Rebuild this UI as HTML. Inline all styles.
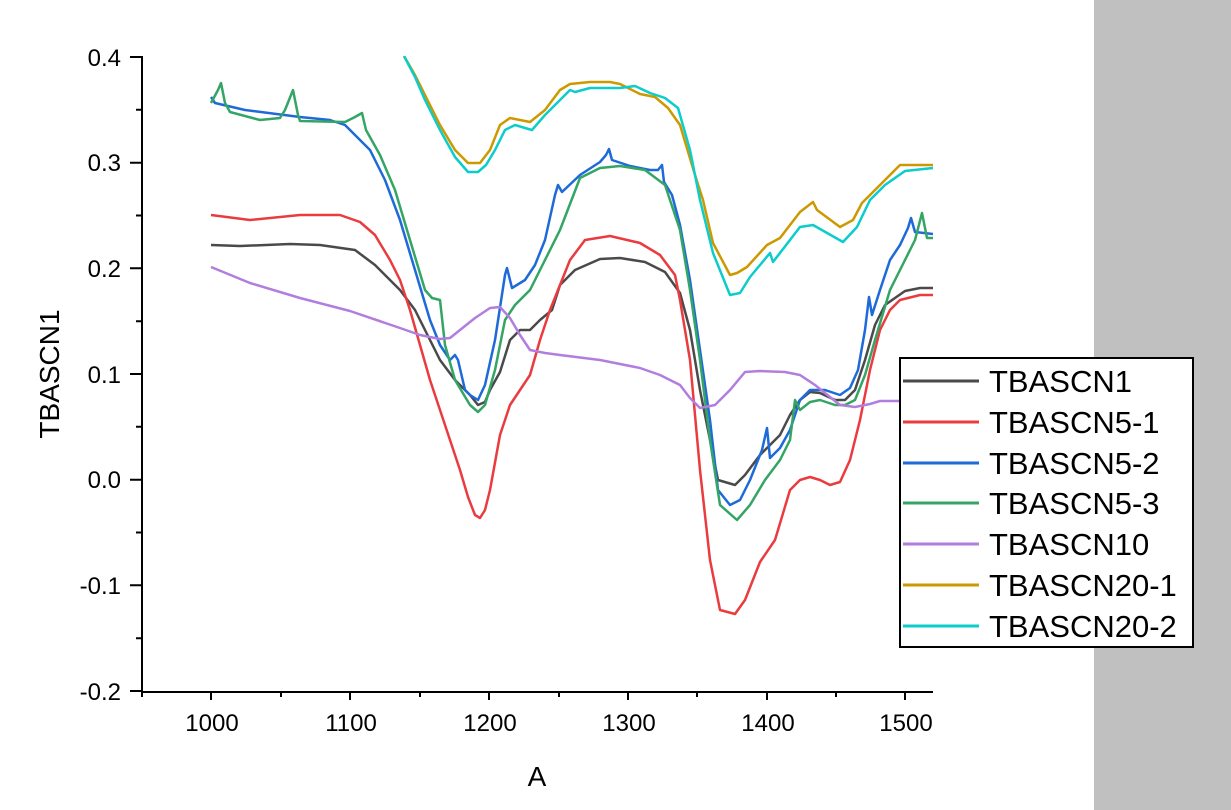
<!DOCTYPE html>
<html><head><meta charset="utf-8"><style>
html,body{margin:0;padding:0;background:#fff}
svg{display:block}
text{font-family:"Liberation Sans",Arial,sans-serif}
</style></head><body>
<svg width="1231" height="810" viewBox="0 0 1231 810" xmlns="http://www.w3.org/2000/svg">
<rect x="0" y="0" width="1231" height="810" fill="#fff"/>
<rect x="1094" y="0" width="137" height="810" fill="#c0c0c0"/>
<defs><clipPath id="c"><rect x="142" y="56" width="791" height="636"/></clipPath></defs>
<g clip-path="url(#c)" fill="none" stroke-width="2.5" stroke-linejoin="round">
<polyline stroke="#4a4a4a" points="211,245 240,246 290,244 320,245 355,250 375,265 400,290 415,310 430,340 440,360 455,380 470,395 478,405 485,402 490,390 500,372 510,340 520,330 530,330 540,320 552,310 560,285 575,270 600,259 620,258 645,262 665,272 680,293 690,330 700,390 710,440 718,480 735,485 745,475 760,455 780,435 790,415 800,400 810,392 820,393 835,400 845,400 855,390 865,360 875,325 885,305 895,298 905,291 920,288 933,288"/>
<polyline stroke="#ea3b3e" points="211,215 250,220 300,215 340,215 360,222 375,235 390,260 400,280 410,310 420,345 430,380 440,410 450,440 460,470 468,497 475,515 480,518 485,510 490,490 500,435 510,405 520,390 530,375 540,340 550,310 560,285 570,260 585,240 610,236 640,243 660,255 675,275 680,300 690,360 700,470 710,560 720,610 735,614 745,600 760,562 775,540 790,490 800,480 810,477 820,480 830,485 840,482 850,460 860,420 870,370 880,330 890,310 900,300 920,295 933,295"/>
<polyline stroke="#1e6ad8" points="211,97 215,103 245,110 300,117 330,120 345,125 355,135 370,150 385,180 400,220 415,270 430,320 440,345 450,360 455,355 458,360 465,390 470,395 478,400 485,385 495,340 505,275 507,268 512,288 525,280 535,265 545,240 555,195 558,185 562,192 580,175 600,162 606,155 609,149 612,160 630,166 650,170 658,170 662,165 664,182 672,195 680,225 690,280 700,350 710,420 718,490 730,505 740,500 750,480 762,450 767,428 770,458 780,448 790,430 800,400 810,390 825,390 840,395 850,388 858,370 865,330 869,297 872,315 880,290 890,260 900,245 908,228 911,218 915,232 933,234"/>
<polyline stroke="#34a565" points="211,103 218,90 221,83 225,103 230,112 260,120 280,118 285,110 293,90 298,115 300,121 345,122 355,117 362,113 366,130 380,155 395,190 410,240 425,290 432,298 440,300 445,345 455,380 470,405 478,412 485,405 495,370 505,320 515,305 530,290 545,260 560,230 580,178 600,168 620,166 645,170 665,185 680,230 690,290 700,360 710,440 720,505 737,520 750,505 765,480 780,460 790,440 795,400 800,410 810,402 820,400 835,405 845,405 855,400 865,375 875,340 890,290 905,260 915,240 922,213 927,238 933,238"/>
<polyline stroke="#b27ede" points="211,267 250,283 300,298 350,311 400,328 420,335 440,339 450,338 460,330 475,318 490,308 500,307 510,318 520,335 530,350 545,353 560,355 600,360 640,368 660,375 680,385 690,398 700,408 715,405 730,390 745,372 760,371 785,372 800,375 815,385 825,393 840,405 855,407 870,404 880,401 900,401 933,401"/>
<polyline stroke="#cc9900" points="404,56 415,75 425,95 440,125 455,150 468,163 480,163 490,150 500,125 510,118 520,120 530,122 545,110 560,90 570,84 590,82 610,82 620,84 640,94 655,97 668,108 680,125 695,175 703,200 713,243 730,275 737,273 747,267 767,245 780,238 800,212 813,202 817,210 840,227 853,220 862,203 880,185 900,165 933,165"/>
<polyline stroke="#0ccccc" points="404,56 415,77 425,100 440,130 455,157 468,172 478,172 486,165 495,150 505,130 515,125 525,128 532,130 545,115 560,100 570,90 575,92 590,88 620,88 635,86 650,93 665,98 678,108 690,150 700,200 713,253 730,295 740,293 750,277 770,253 773,262 800,227 813,225 843,242 857,227 870,200 885,185 905,171 933,168"/>
</g>
<g stroke="#000" stroke-width="2" fill="none">
<line x1="142" y1="56" x2="142" y2="693"/>
<line x1="141" y1="692" x2="933" y2="692"/>
<path d="M130 57H142M130 162.7H142M130 268.3H142M130 374H142M130 479.7H142M130 585.3H142M130 691H142"/>
<path d="M136 109.8H142M136 215.5H142M136 321.2H142M136 426.8H142M136 532.5H142M136 638.2H142"/>
<path d="M211 692V700M350 692V700M489 692V700M628 692V700M767 692V700M905 692V700"/>
<path d="M142 692V697M281 692V697M420 692V697M559 692V697M697 692V697M836 692V697"/>
</g>
<g font-size="24" text-anchor="end" fill="#000">
<text x="121" y="66">0.4</text><text x="121" y="171">0.3</text><text x="121" y="277">0.2</text><text x="121" y="383">0.1</text><text x="121" y="488">0.0</text><text x="121" y="594">-0.1</text><text x="121" y="700">-0.2</text>
</g>
<g font-size="24" text-anchor="middle" fill="#000">
<text x="212" y="731">1000</text><text x="351" y="731">1100</text><text x="490" y="731">1200</text><text x="629" y="731">1300</text><text x="768" y="731">1400</text><text x="906" y="731">1500</text>
</g>
<text x="537" y="786" font-size="28" text-anchor="middle">A</text>
<text transform="translate(59,374) rotate(-90)" font-size="28" text-anchor="middle">TBASCN1</text>
<rect x="900" y="358" width="293" height="289" fill="#fff" stroke="#000" stroke-width="2"/>
<g stroke-width="3">
<line x1="903" y1="381" x2="979" y2="381" stroke="#4a4a4a"/>
<line x1="903" y1="422" x2="979" y2="422" stroke="#ea3b3e"/>
<line x1="903" y1="463" x2="979" y2="463" stroke="#1e6ad8"/>
<line x1="903" y1="503" x2="979" y2="503" stroke="#34a565"/>
<line x1="903" y1="544" x2="979" y2="544" stroke="#b27ede"/>
<line x1="903" y1="585" x2="979" y2="585" stroke="#cc9900"/>
<line x1="903" y1="626" x2="979" y2="626" stroke="#0ccccc"/>
</g>
<g font-size="31" fill="#000">
<text x="989" y="392">TBASCN1</text>
<text x="989" y="433">TBASCN5-1</text>
<text x="989" y="474">TBASCN5-2</text>
<text x="989" y="514">TBASCN5-3</text>
<text x="989" y="555">TBASCN10</text>
<text x="989" y="596">TBASCN20-1</text>
<text x="989" y="637">TBASCN20-2</text>
</g>
</svg>
</body></html>
